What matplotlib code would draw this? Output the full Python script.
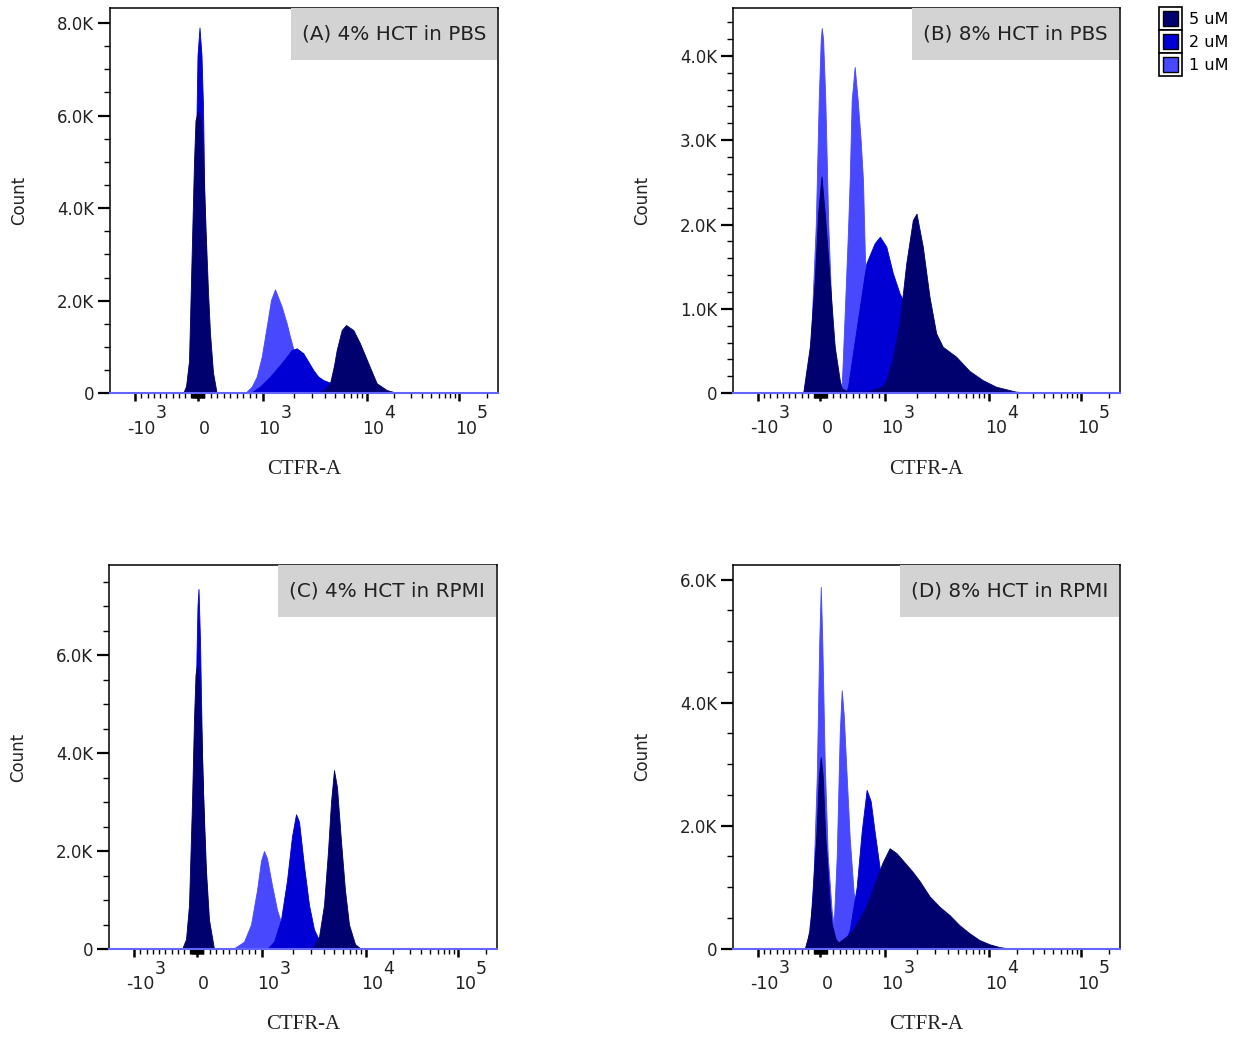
import numpy as np
import matplotlib
matplotlib.use("Agg")
import matplotlib.pyplot as plt
from matplotlib.patches import Rectangle, Patch
from matplotlib.legend_handler import HandlerBase

plt.rcParams['font.family'] = ['DejaVu Sans']

# histograms, x in display channels (0-388 across the biex axis), y in counts
# --- (A) 4% HCT in PBS
a1_x = [78, 83, 86, 88.5, 91, 94, 99, 135, 141.7, 146.7, 151.7, 156.7, 161, 165, 171.7, 176.7, 180, 183.3, 190, 200, 210, 220]
a1_y = [0, 1200, 4000, 6500, 4000, 1300, 0, 0, 144, 359, 790, 1439, 2015, 2246, 1871, 1512, 1223, 960, 500, 150, 40, 0]
a2_x = [76, 80, 83, 85, 86.5, 87.5, 89.5, 91.5, 93, 94.5, 97, 100, 104, 140, 150, 160, 170, 176.7, 181.7, 186.7, 193.3, 198.3, 203.3, 208.3, 213.3, 218.3, 230, 245, 260]
a2_y = [0, 300, 1500, 3500, 6000, 7300, 7900, 7300, 6200, 4000, 2000, 700, 0, 0, 144, 359, 611, 790, 935, 972, 864, 683, 503, 359, 287, 244, 150, 60, 0]
a5_x = [73, 76, 79, 82, 84, 85.5, 88, 91, 93, 94.5, 96, 98, 100, 103, 106.7, 205, 215, 220, 224, 226.7, 231.7, 236, 243.3, 250, 258.3, 266.7, 276.7, 285, 293]
a5_y = [0, 150, 700, 3300, 5000, 5900, 6100, 5900, 5000, 4200, 3300, 2200, 1300, 450, 0, 0, 80, 216, 600, 935, 1367, 1475, 1367, 1080, 648, 216, 71, 20, 0]

# --- (B) 8% HCT in PBS
b1_x = [72, 78, 83, 86, 88, 89, 90.3, 92.5, 95.5, 100, 106, 109, 112, 115.3, 117, 119, 122, 125, 128, 130.3, 132, 133.7, 137, 147, 162]
b1_y = [0, 600, 2000, 3500, 4200, 4330, 4200, 3500, 2000, 600, 100, 80, 947, 1935, 2528, 3477, 3869, 3477, 3000, 2528, 1737, 947, 400, 100, 0]
b2_x = [74, 80, 85, 88.5, 92, 97, 104, 113, 115.3, 123.7, 133.7, 142, 147.3, 153.7, 160.3, 167, 170.3, 177, 187, 202, 217, 232]
b2_y = [0, 500, 1500, 2000, 1500, 500, 0, 0, 77, 750, 1541, 1778, 1856, 1737, 1422, 1185, 1105, 700, 350, 150, 50, 0]
b5_x = [70.3, 77, 82, 85.3, 88.7, 92, 97, 102, 107, 109, 115, 135, 150, 153.7, 160, 167, 173.7, 180.3, 184, 190.3, 197, 203.7, 210.3, 223.7, 237, 250.3, 263.7, 283.7, 307]
b5_y = [0, 551, 1342, 2133, 2570, 2133, 1342, 551, 156, 60, 20, 20, 80, 150, 400, 829, 1541, 2054, 2130, 1737, 1144, 710, 551, 433, 265, 156, 77, 18, 0]

# --- (C) 4% HCT in RPMI
c1_x = [79, 84, 87, 89.5, 92, 95, 100, 124, 135, 142, 148, 152, 155, 158, 163, 168, 175, 181, 190, 200]
c1_y = [0, 1500, 4500, 6500, 4500, 1500, 0, 0, 150, 500, 1200, 1800, 2000, 1850, 1300, 800, 350, 150, 40, 0]
c2_x = [77, 81, 84, 86, 87.5, 88.5, 89.5, 91, 93, 96, 99, 103, 158, 165, 172, 178, 183, 187, 190, 195, 200, 205, 212, 220]
c2_y = [0, 300, 1500, 3800, 6000, 7000, 7350, 6300, 4000, 1800, 600, 0, 0, 150, 600, 1400, 2300, 2750, 2600, 1700, 900, 400, 100, 0]
c5_x = [73, 77, 80, 83, 85, 86.5, 88, 90, 92, 94, 97, 100, 105, 203, 210, 215, 219, 222, 225, 228, 232, 236, 240, 246, 252]
c5_y = [0, 200, 900, 3000, 4700, 5600, 5800, 5500, 4600, 3200, 1600, 600, 0, 0, 250, 900, 2000, 3000, 3650, 3300, 2200, 1200, 500, 100, 0]

# --- (D) 8% HCT in RPMI
d1_x = [74, 80, 84, 86.5, 88, 89.5, 92, 95, 99, 101, 104, 107, 109, 111, 114, 117, 121, 126, 132, 140]
d1_y = [0, 800, 2800, 5000, 5880, 5000, 3000, 1500, 600, 400, 1500, 3500, 4200, 3800, 2800, 1800, 900, 400, 150, 0]
d2_x = [76, 82, 88, 94, 100, 110, 117, 124, 129, 134, 138, 142, 148, 155, 165, 180, 195]
d2_y = [0, 1500, 2500, 1500, 0, 0, 300, 1000, 1900, 2580, 2400, 1900, 1200, 700, 350, 100, 0]
d5_x = [72, 77, 81, 84, 86, 88, 90, 92, 95, 99, 103, 106, 110, 118, 126, 134, 142, 150, 157, 164, 172, 180, 187, 197, 207, 217, 227, 237, 247, 257, 267, 277]
d5_y = [0, 300, 1000, 2000, 2800, 3110, 2800, 2000, 1000, 400, 150, 100, 150, 250, 450, 700, 1050, 1400, 1630, 1550, 1400, 1250, 1100, 850, 680, 545, 380, 250, 138, 70, 24, 0]

titles = ['(A) 4% HCT in PBS', '(B) 8% HCT in PBS', '(C) 4% HCT in RPMI', '(D) 8% HCT in RPMI']
labels = ['5 uM', '2 uM', '1 uM']
colors = {'5 uM': '#00006e', '2 uM': '#0000d4', '1 uM': '#4848ff'}

panels = [
    {'1 uM': (a1_x, a1_y), '2 uM': (a2_x, a2_y), '5 uM': (a5_x, a5_y)},
    {'1 uM': (b1_x, b1_y), '2 uM': (b2_x, b2_y), '5 uM': (b5_x, b5_y)},
    {'1 uM': (c1_x, c1_y), '2 uM': (c2_x, c2_y), '5 uM': (c5_x, c5_y)},
    {'1 uM': (d1_x, d1_y), '2 uM': (d2_x, d2_y), '5 uM': (d5_x, d5_y)},
]
# y axis: top, major step, minor step
yaxes = [(8323, 2000, 500), (4568, 1000, 200), (7837, 2000, 500), (6236, 2000, 500)]


def chan(v):
    # biexponential display: linear around 0, log above |10^3|
    v = np.asarray(v, dtype=float)
    a = np.abs(v) + 1e-9
    return np.where(v >= 1e4, 256.7 + 92.3 * np.log10(a / 1e4),
           np.where(v >= 1e3, 152.7 + 104 * np.log10(a / 1e3),
           np.where(v >= 0, 87.7 + 0.065 * v,
           np.where(v > -1e3, 87.7 + 0.0627 * v, 25 - 62.7 * np.log10(a / 1e3)))))


major_vals = [-1e3, 0, 1e3, 1e4, 1e5]
major_base = ['-10', '0', '10', '10', '10']
major_exp = ['3', '', '3', '4', '5']
minor_vals = (list(np.arange(-900, 0, 100)) + list(np.arange(-90, 0, 10)) + list(np.arange(10, 100, 10))
              + list(np.arange(100, 1000, 100)) + list(np.arange(2000, 10000, 1000))
              + list(np.arange(20000, 100000, 10000)) + [200000])


def kfmt(v):
    return '0' if v == 0 else '%.1fK' % (v / 1000)


class CellHandler(HandlerBase):
    def create_artists(self, legend, orig_handle, xdescent, ydescent, width, height, fontsize, trans):
        outer = Rectangle((-xdescent, -ydescent), width, height, facecolor='white',
                          edgecolor='black', lw=1.2, transform=trans)
        p = 3.2
        inner = Rectangle((-xdescent + p, -ydescent + p), width - 2 * p, height - 2 * p,
                          facecolor=orig_handle.get_facecolor(), edgecolor='black', lw=1.0, transform=trans)
        return [outer, inner]


W, H = 1238, 1038
fig = plt.figure(figsize=(W / 100, H / 100), dpi=100)
rects_px = [(110, 8, 388, 385.3), (733, 8, 387, 385.2), (109, 565, 388, 384), (733, 565, 387, 383.5)]
txt_col = '#222222'
title_items = []

for i, (l, t, w, h) in enumerate(rects_px):
    ax = fig.add_axes([l / W, 1 - (t + h) / H, w / W, h / H])
    data = panels[i]
    for name in ['1 uM', '2 uM', '5 uM']:
        x, y = data[name]
        ax.fill_between(x, y, 0, color=colors[name], lw=0.6, edgecolor=colors[name])
    ax.axhline(0, color='#6464ff', lw=1.5, zorder=5, clip_on=False)
    ax.set_xlim(0, 388)
    top, step, mstep = yaxes[i]
    ax.set_ylim(0, top)
    yt = np.arange(0, top, step)
    ax.set_yticks(yt)
    ax.set_yticklabels([kfmt(v) for v in yt])
    ax.set_yticks(np.arange(0, top, mstep), minor=True)
    ax.set_xticks(chan(major_vals))
    ax.set_xticklabels([])
    ax.set_xticks(chan(minor_vals), minor=True)
    ax.tick_params(axis='y', which='major', length=8.5, width=1.6, pad=3, labelsize=12, labelcolor=txt_col)
    ax.tick_params(axis='y', which='minor', length=4.3, width=1.0)
    ax.tick_params(axis='x', which='major', length=6, width=1.8)
    ax.tick_params(axis='x', which='minor', length=3.6, width=1.0)
    # x tick labels: base number plus a full size raised exponent
    for v, b, e in zip(major_vals, major_base, major_exp):
        base = ax.annotate(b, xy=(float(chan(v)), 0), xycoords=('data', 'axes fraction'),
                           xytext=(4.8, -29), textcoords='offset points', ha='center', va='baseline',
                           fontsize=12.5, color=txt_col, annotation_clip=False)
        if e:
            ax.annotate(e, xy=(1, 0), xycoords=base, xytext=(0.2, 14), textcoords='offset points',
                        ha='left', va='baseline', fontsize=12.5, color=txt_col, annotation_clip=False)
    for s in ax.spines.values():
        s.set_linewidth(1.1)
    ax.set_ylabel('Count', fontsize=12, color=txt_col)
    ax.yaxis.set_label_coords(-0.211, 0.5)
    ax.set_xlabel('CTFR-A', fontsize=15, family='Liberation Serif', color=txt_col)
    ax.xaxis.set_label_coords(0.5, -0.173)
    tt = ax.text(0.5, 0.5, titles[i], transform=ax.transAxes, ha='center', va='center', fontsize=14.4,
                 color=txt_col, zorder=7)
    title_items.append((ax, tt))

handles = [Patch(facecolor=colors[n], label=n) for n in labels]
fig.legend(handles=handles, labels=labels, loc='upper left', bbox_to_anchor=(1159 / W, 1 - 7 / H),
           frameon=False, borderaxespad=0, borderpad=0, fontsize=11.5, handlelength=1.45,
           handleheight=1.84, handletextpad=0.4, labelspacing=0,
           handler_map={Patch: CellHandler(ypad=0)})

# grey title boxes sized to their text, flush with the top right of each panel
fig.canvas.draw()
for ax, tt in title_items:
    bb = tt.get_window_extent()
    axbb = ax.get_window_extent()
    bw = (bb.width + 22) / axbb.width
    bh = 52 / axbb.height
    right = 1 - 1.0 / axbb.width
    ax.add_patch(Rectangle((right - bw, 1 - bh), bw, bh, transform=ax.transAxes,
                           facecolor='#d3d3d3', edgecolor='none', zorder=6))
    tt.set_position((right - bw / 2, 1 - bh / 2))

fig.savefig('out.png', dpi=100)
